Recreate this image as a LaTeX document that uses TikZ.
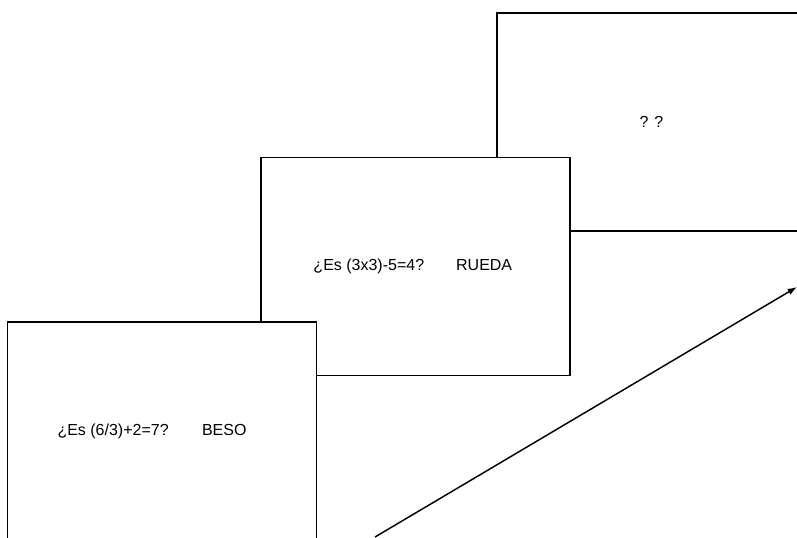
\documentclass[tikz,border=0pt]{standalone}
\usepackage{fontspec}
\setmainfont{Liberation Sans}
\usetikzlibrary{arrows.meta,positioning}

\begin{document}
\begin{tikzpicture}[
    x=0.75pt, y=-0.75pt,
    screen/.style={draw, line width=1pt, fill=white, minimum width=309*0.75pt, minimum height=218*0.75pt, inner sep=0pt, font=\fontsize{12}{14}\selectfont},
    line/.style={-{Latex[length=7pt,width=5pt]}, line width=1.1pt}
  ]
    \useasboundingbox (0,0) rectangle (797,537);
    \clip (0,0) rectangle (797,537);

    % screens, back to front
    \node[screen] (third) at (651.5,122) {? ?};
    \node[screen] (second) at (415.5,266.5) {¿Es (3x3)-5=4?\hspace{24pt}RUEDA\hspace{4pt}\null};
    \node[screen] (first) at (162,431) {¿Es (6/3)+2=7?\hspace{25pt}BESO\hspace{15pt}\null};

    % time arrow
    \coordinate (tail) at (375,537);
    \coordinate (tip) at (797,287);
    \draw[line] (tail) -- (tip);
  \end{tikzpicture}
\end{document}
